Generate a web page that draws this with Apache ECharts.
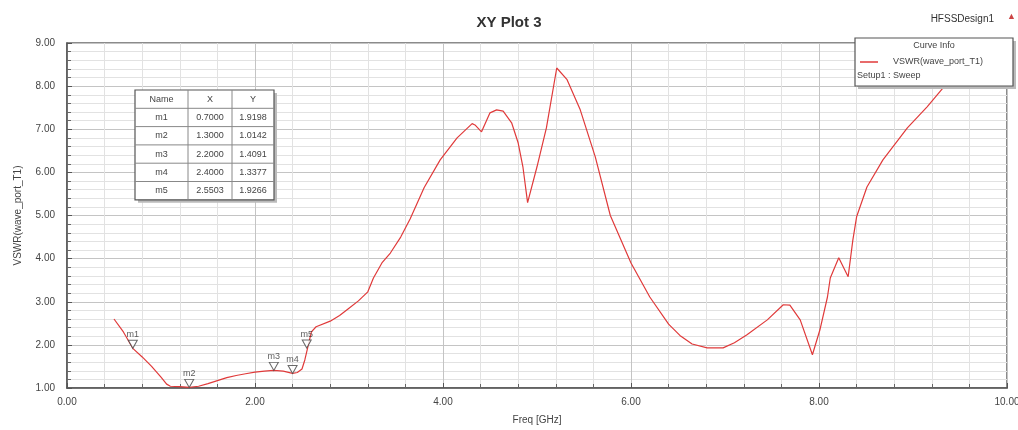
<!DOCTYPE html>
<html>
<head>
<meta charset="utf-8">
<script src="https://cdn.jsdelivr.net/npm/echarts@6/dist/echarts.min.js"></script>
<style>
html,body{margin:0;padding:0;background:#fff;}
#chart{width:1018px;height:430px;}
</style>
</head>
<body>
<div id="chart"></div>
<script>
// ---- data ----
const freq = [0.50,0.60,0.70,0.80,0.90,1.00,1.06,1.10,1.20,1.30,1.40,1.50,1.60,1.70,1.80,1.90,2.00,2.10,2.20,2.30,2.40,2.45,2.50,2.53,2.56,2.60,2.65,2.80,2.90,3.00,3.10,3.20,3.26,3.35,3.44,3.55,3.65,3.80,3.97,4.15,4.31,4.34,4.41,4.50,4.57,4.64,4.73,4.80,4.85,4.90,5.00,5.10,5.21,5.32,5.46,5.62,5.78,6.00,6.20,6.40,6.52,6.65,6.81,6.98,7.10,7.23,7.45,7.62,7.69,7.80,7.93,8.01,8.09,8.12,8.21,8.31,8.36,8.40,8.51,8.68,8.94,9.15,9.32,9.45];
const vswr = [2.60,2.30,1.92,1.72,1.50,1.25,1.09,1.04,1.03,1.014,1.04,1.10,1.17,1.24,1.29,1.33,1.37,1.39,1.41,1.39,1.34,1.36,1.44,1.65,1.93,2.30,2.42,2.55,2.68,2.85,3.02,3.23,3.55,3.90,4.13,4.50,4.92,5.65,6.29,6.80,7.13,7.10,6.94,7.38,7.45,7.42,7.15,6.68,6.13,5.30,6.13,7.03,8.42,8.15,7.45,6.36,5.00,3.90,3.11,2.48,2.22,2.02,1.93,1.93,2.05,2.23,2.58,2.93,2.92,2.58,1.77,2.35,3.11,3.55,4.02,3.58,4.43,4.97,5.66,6.29,7.03,7.52,7.96,8.30];
const markerNames = ['m1','m2','m3','m4','m5'];
const markerX = [0.7000,1.3000,2.2000,2.4000,2.5503];
const markerY = [1.9198,1.0142,1.4091,1.3377,1.9266];
const tableHeader = ['Name','X','Y'];
const xTicks = {min:0, max:10, interval:2};
const yTicks = {min:1, max:9, interval:1};

const FONT = 'Liberation Sans, Arial, sans-serif';
const chart = echarts.init(document.getElementById('chart'));

// marker table graphic (built from marker arrays)
const tX = 135, tY = 90, colW = [53, 44, 42], rowH = 18.3;
const tW = colW.reduce((a,b)=>a+b,0), tH = rowH*(markerNames.length+1);
const tableEls = [];
tableEls.push({type:'rect', shape:{x:tX+3,y:tY+3,width:tW,height:tH}, style:{fill:'#bbb'}, z:100});
tableEls.push({type:'rect', shape:{x:tX,y:tY,width:tW,height:tH}, style:{fill:'#fff',stroke:'#555',lineWidth:1.2}, z:101});
const rows = [tableHeader].concat(markerNames.map((n,i)=>[n, markerX[i].toFixed(4), markerY[i].toFixed(4)]));
let cx = tX;
colW.forEach((w,ci)=>{
  if(ci>0) tableEls.push({type:'line', shape:{x1:cx,y1:tY,x2:cx,y2:tY+tH}, style:{stroke:'#888',lineWidth:1}, z:102});
  rows.forEach((r,ri)=>{
    tableEls.push({type:'text', x:cx+w/2, y:tY+rowH*ri+rowH/2, style:{text:r[ci], font:'9px '+FONT, fill:'#444', align:'center', verticalAlign:'middle'}, z:103});
  });
  cx += w;
});
for(let ri=1; ri<rows.length; ri++){
  tableEls.push({type:'line', shape:{x1:tX,y1:tY+rowH*ri,x2:tX+tW,y2:tY+rowH*ri}, style:{stroke:'#888',lineWidth:1}, z:102});
}

// curve info legend box
const lgX = 855, lgY = 38, lgW = 158, lgH = 48;
const legendEls = [
  {type:'rect', shape:{x:lgX+3,y:lgY+3,width:lgW,height:lgH}, style:{fill:'#bbb'}, z:100},
  {type:'rect', shape:{x:lgX,y:lgY,width:lgW,height:lgH}, style:{fill:'#fff',stroke:'#555',lineWidth:1.2}, z:101},
  {type:'text', x:lgX+lgW/2, y:lgY+8, style:{text:'Curve Info', font:'9px '+FONT, fill:'#444', align:'center', verticalAlign:'middle'}, z:103},
  {type:'line', shape:{x1:lgX+5,y1:lgY+24,x2:lgX+23,y2:lgY+24}, style:{stroke:'#e03a3a',lineWidth:1.5}, z:103},
  {type:'text', x:lgX+38, y:lgY+24, style:{text:'VSWR(wave_port_T1)', font:'9px '+FONT, fill:'#444', align:'left', verticalAlign:'middle'}, z:103},
  {type:'text', x:lgX+2, y:lgY+38, style:{text:'Setup1 : Sweep', font:'9px '+FONT, fill:'#444', align:'left', verticalAlign:'middle'}, z:103}
];

const option = {
  backgroundColor:'#fff',
  animation:false,
  title:{text:'XY Plot 3', left:'center', top:10, textStyle:{fontFamily:FONT, fontSize:15, fontWeight:'bold', color:'#333'}},
  grid:{left:67, right:11, top:43, bottom:42, show:true, borderColor:'#666', borderWidth:1.5, containLabel:false, outerBoundsMode:'none'},
  xAxis:{
    type:'value', min:xTicks.min, max:xTicks.max, interval:xTicks.interval,
    name:'Freq [GHz]', nameLocation:'middle', nameGap:27,
    nameTextStyle:{fontFamily:FONT, fontSize:10, color:'#444'},
    axisLine:{show:true, lineStyle:{color:'#555', width:1.5}},
    axisTick:{show:true, inside:true, length:5, lineStyle:{color:'#555'}},
    minorTick:{show:true, splitNumber:5, length:4, lineStyle:{color:'#666'}},
    axisLabel:{formatter:v=>v.toFixed(2), fontFamily:FONT, fontSize:10, color:'#444', margin:9},
    splitLine:{show:true, lineStyle:{color:'#c4c4c4', width:1}},
    minorSplitLine:{show:true, lineStyle:{color:'#e2e2e2', width:1}}
  },
  yAxis:{
    type:'value', min:yTicks.min, max:yTicks.max, interval:yTicks.interval,
    name:'VSWR(wave_port_T1)', nameLocation:'middle', nameGap:44,
    nameTextStyle:{fontFamily:FONT, fontSize:10, color:'#444'},
    axisLine:{show:true, lineStyle:{color:'#555', width:1.5}},
    axisTick:{show:true, inside:true, length:5, lineStyle:{color:'#555'}},
    minorTick:{show:true, splitNumber:5, length:4, lineStyle:{color:'#666'}},
    axisLabel:{formatter:v=>v.toFixed(2), fontFamily:FONT, fontSize:10, color:'#444', margin:12},
    splitLine:{show:true, lineStyle:{color:'#c4c4c4', width:1}},
    minorSplitLine:{show:true, lineStyle:{color:'#e2e2e2', width:1}}
  },
  graphic:[
    {type:'text', right:24, top:14, style:{text:'HFSSDesign1', font:'10px '+FONT, fill:'#333'}, z:103},
    {type:'text', right:2, top:12, style:{text:'▲', font:'9px '+FONT, fill:'#c44'}, z:103},
    {type:'group', children:tableEls},
    {type:'group', children:legendEls}
  ],
  series:[
    {
      type:'line', data:freq.map((f,i)=>[f, vswr[i]]), showSymbol:false, smooth:false,
      lineStyle:{color:'#e03a3a', width:1.2}, z:5
    },
    {
      type:'scatter', data:markerX.map((x,i)=>({value:[x, markerY[i]], name:markerNames[i]})),
      symbol:'triangle', symbolRotate:180, symbolSize:[9,8], symbolOffset:[0,-4],
      itemStyle:{color:'#fff', borderColor:'#444', borderWidth:1},
      label:{show:true, position:'top', distance:1, formatter:p=>p.name, fontFamily:FONT, fontSize:9, color:'#333'},
      z:6
    }
  ]
};
chart.setOption(option);
</script>
</body>
</html>
